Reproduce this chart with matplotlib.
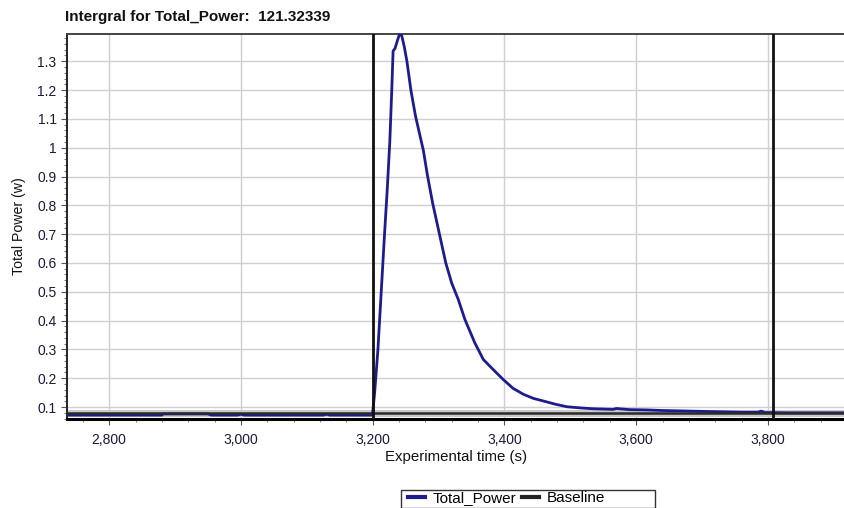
import matplotlib
matplotlib.use("Agg")
import matplotlib.pyplot as plt
from matplotlib.ticker import MultipleLocator, FuncFormatter
from matplotlib.lines import Line2D
from matplotlib.patches import Rectangle

# ---- data ----
time_s = [2736, 2880, 2882, 2950, 2955, 2995, 3000, 3005, 3125, 3130, 3135, 3198,
          3200, 3203, 3208, 3213, 3218, 3222, 3226, 3229, 3231, 3234, 3238, 3241,
          3244, 3248, 3252, 3258, 3265, 3272, 3277, 3283, 3291, 3301, 3311, 3320,
          3330, 3340, 3355, 3368, 3383, 3398, 3413, 3429, 3444, 3459, 3477, 3495,
          3515, 3535, 3550, 3565, 3570, 3590, 3616, 3640, 3680, 3720, 3760, 3785,
          3790, 3795, 3830, 3870, 3917]
total_power = [0.072, 0.072, 0.076, 0.076, 0.072, 0.072, 0.075, 0.072, 0.072, 0.075, 0.072, 0.072,
               0.080, 0.150, 0.300, 0.500, 0.700, 0.850, 1.020, 1.200, 1.335, 1.345, 1.375, 1.395,
               1.390, 1.350, 1.300, 1.200, 1.110, 1.040, 0.990, 0.906, 0.808, 0.704, 0.600, 0.530,
               0.473, 0.404, 0.323, 0.265, 0.230, 0.196, 0.165, 0.144, 0.130, 0.121, 0.110, 0.101,
               0.097, 0.094, 0.093, 0.092, 0.095, 0.091, 0.090, 0.088, 0.086, 0.084, 0.082, 0.082,
               0.086, 0.081, 0.080, 0.080, 0.080]
baseline_level = 0.081
integration_bounds = [3200, 3808]
title_text = "Intergral for Total_Power:  121.32339"
x_label = "Experimental time (s)"
y_label = "Total Power (w)"
legend_labels = ["Total_Power", "Baseline"]

plt.rcParams['font.family'] = ['Liberation Sans', 'DejaVu Sans']

W, H = 845, 508
fig = plt.figure(figsize=(W/100, H/100), dpi=100)
ax = fig.add_axes([67/W, 89/H, 1 - 67/W, (419-34)/H])

ax.set_xlim(2736, 3917)
ax.set_ylim(0.0585, 1.3945)

ax.grid(True, which='major', color='#cfcfcf', linewidth=1.0)
ax.set_axisbelow(True)

line_color = '#1c1c8e'
ax.axhline(baseline_level, color='#c8c8c8', linewidth=5.0, zorder=2)
ax.plot(time_s, total_power, color=line_color, linewidth=2.0, zorder=3)
ax.axhline(baseline_level, color='#2a2a2a', linewidth=1.8, zorder=4)
for b in integration_bounds:
    ax.axvline(b, color='#111111', linewidth=2.0, zorder=5)

ax.xaxis.set_major_locator(MultipleLocator(200))
ax.xaxis.set_minor_locator(MultipleLocator(40))
ax.yaxis.set_major_locator(MultipleLocator(0.1))
ax.yaxis.set_minor_locator(MultipleLocator(0.02))
ax.xaxis.set_major_formatter(FuncFormatter(lambda v, p: f"{v:,.0f}"))
ax.yaxis.set_major_formatter(FuncFormatter(lambda v, p: f"{v:.1f}".rstrip('0').rstrip('.') if abs(v) > 1e-9 else "0"))

ax.tick_params(axis='both', which='major', direction='out', length=4, width=0.8,
               color='#555555', labelsize=10, labelcolor='#1a1a3a')
ax.tick_params(axis='both', which='minor', direction='out', length=2.5, width=0.7, color='#777777')
ax.tick_params(axis='x', pad=6)

ax.spines['left'].set_linewidth(1.4)
ax.spines['left'].set_color('#222222')
ax.spines['bottom'].set_linewidth(2.2)
ax.spines['bottom'].set_color('#000000')
ax.spines['top'].set_linewidth(1.4)
ax.spines['top'].set_color('#444444')
ax.spines['right'].set_visible(False)

ax.set_xlabel(x_label, fontsize=10.8, color='#111111', labelpad=2)
ax.set_ylabel(y_label, fontsize=10.2, color='#111111', labelpad=8)

fig.text(65/W, 1 - 17/H, title_text, fontsize=11, fontweight='bold',
         ha='left', va='center', color='#111111')

# legend: frame drawn as a figure rectangle, entries as a frameless legend
legend_top = 490
fig.patches.append(Rectangle((401/W, 0), (655-401)/W, 1 - legend_top/H,
                             transform=fig.transFigure, fill=False,
                             edgecolor='#333333', linewidth=1.0, zorder=10))
handles = [Line2D([0], [0], color=line_color, linewidth=3),
           Line2D([0], [0], color='#222222', linewidth=3)]
leg = fig.legend(handles, legend_labels, loc='center left',
                 bbox_to_anchor=(408/W, 1 - 498.5/H), ncol=2, fontsize=11,
                 frameon=False, handlelength=1.1, handletextpad=0.5,
                 columnspacing=0.4, borderpad=0, borderaxespad=0)

fig.savefig("out.png", dpi=100)
